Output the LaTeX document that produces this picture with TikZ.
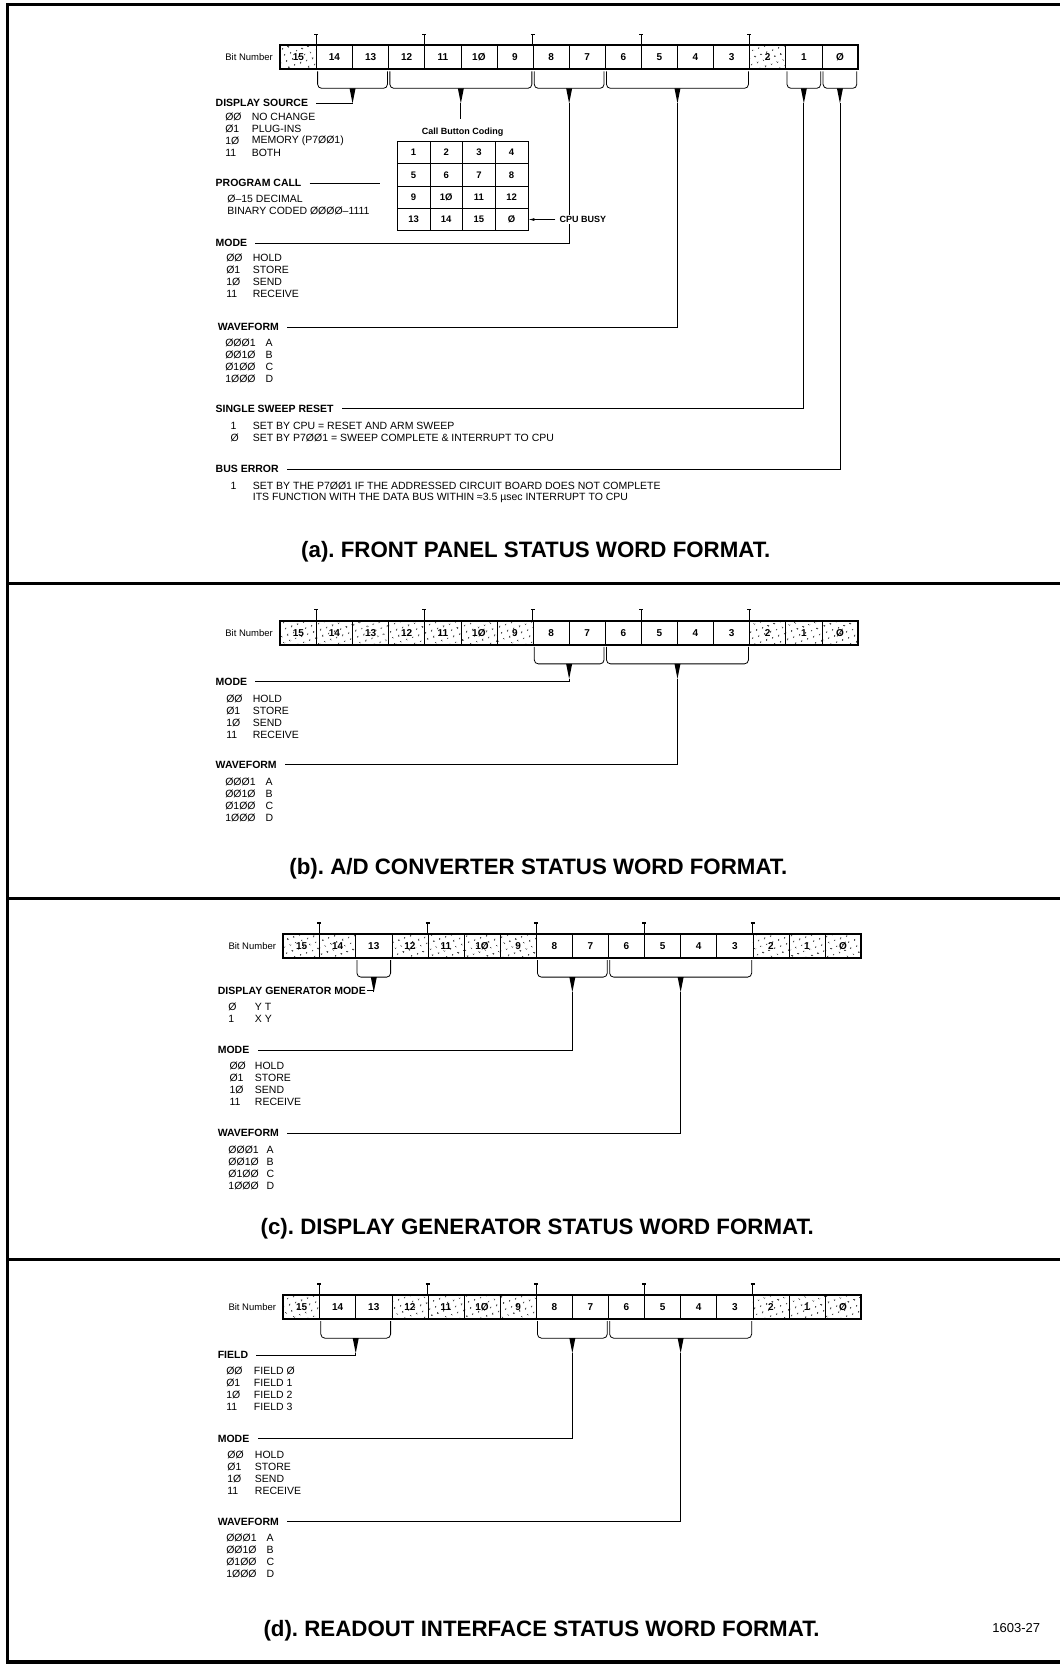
\documentclass[tikz,border=0pt]{standalone}
\usepackage{fontspec}
\setmainfont{Liberation Sans}
\usetikzlibrary{positioning,calc,matrix,arrows.meta,patterns.meta}
\frenchspacing

\newcommand{\bitno}[1]{\ifnum#1=10 1Ø\else\ifnum#1=0 Ø\else#1\fi\fi}

% one status word: prefix, left x, centre y, bit/style list
\newcommand{\statusword}[4]{%
  \foreach \b/\s in {#4}
    \node[\s] (#1\b) at ({#2+34*(15-\b)+17},#3) {\bitno{\b}};
  \draw[regframe] (#115.north west) rectangle (#10.south east);
  \foreach \b in {14,11,8,5,2}
    \draw[bittick] (#1\b.north west) -- ++(0,-11);
  \node[bitlabel, left=6pt of #115] (#1bit) {Bit Number};
}

% brace under a group of bits: first node, last node, tip name
\newcommand{\bitbrace}[3]{%
  \coordinate (bl) at ([xshift=1.5pt,yshift=-2pt]#1.south west);
  \coordinate (br) at ([xshift=-1.5pt,yshift=-2pt]#2.south east);
  \draw[bitbracket] (bl) -- ++(0,-17pt) -| (br);
  \fill ($(bl)!.5!(br)+(-3pt,-17pt)$) -- ++(6pt,0) -- ++(-3pt,-15pt) -- cycle;
  \coordinate (#3) at ($(bl)!.5!(br)+(0,-32pt)$);
}

% code / meaning list under a heading
\newcommand{\codelist}[5]{%
  \foreach \c/\t [count=\i] in {#5} {
    \node[item] (#1c\i) at (#2,{#4+11.3*(\i-1)}) {\c};
    \node[item] (#1t\i) at (#3,{#4+11.3*(\i-1)}) {\t};
  }}

\begin{document}
\begin{tikzpicture}[x=1.0621pt, y=-1.0621pt,
  wcell/.style={draw, line width=0.6pt, minimum width=36.1pt, minimum height=23.4pt,
                inner sep=0pt, font=\fontsize{10}{11}\selectfont\bfseries},
  dcell/.style={wcell, pattern={Dots[distance=6.5pt,radius=0.9pt,angle=20]}},
  regframe/.style={line width=2pt},
  bittick/.style={line width=0.8pt, -{Bar[width=4pt,line width=1.2pt]}},
  bitlabel/.style={font=\fontsize{9.5}{11}\selectfont, inner sep=1pt},
  bitbracket/.style={line width=0.8pt, rounded corners=4pt},
  heading/.style={anchor=west, inner sep=1pt, font=\fontsize{10.5}{12}\selectfont\bfseries},
  item/.style={anchor=west, inner sep=1pt, font=\fontsize{10.5}{12}\selectfont},
  leader/.style={line width=0.8pt},
  title/.style={font=\fontsize{22.3}{26}\selectfont\bfseries},
  pageframe/.style={line width=3.5pt},
  cbcell/.style={draw, line width=0.8pt, minimum width=32.7pt, minimum height=22.3pt,
                 inner sep=0pt, font=\fontsize{9.5}{10}\selectfont\bfseries}
]
\useasboundingbox (0,0) rectangle (998,1568);

% frame
\draw[pageframe] (998,4) -- (7,4) -- (7,1565) -- (998,1565);
\draw[pageframe] (7,549.5) -- (998,549.5);
\draw[pageframe] (7,846) -- (998,846);
\draw[pageframe] (7,1186) -- (998,1186);

% (a) front panel
\statusword{a}{264}{54}{15/dcell,14/wcell,13/wcell,12/wcell,11/wcell,10/wcell,9/wcell,8/wcell,7/wcell,6/wcell,5/wcell,4/wcell,3/wcell,2/dcell,1/wcell,0/wcell}
\bitbrace{a14}{a13}{a-t1413}
\bitbrace{a12}{a9}{a-t129}
\bitbrace{a8}{a7}{a-t87}
\bitbrace{a6}{a3}{a-t63}
\bitbrace{a1}{a1}{a-t1}
\bitbrace{a0}{a0}{a-t0}

\node[heading] (a-ds) at (202,97) {DISPLAY SOURCE};
\codelist{a-ds}{211}{236}{110}{ØØ/NO CHANGE,Ø1/PLUG-INS,1Ø/MEMORY (P7ØØ1),11/BOTH}
\node[heading] (a-pc) at (202,172.6) {PROGRAM CALL};
\node[item] (a-pc1) at (213,187) {Ø–15 DECIMAL};
\node[item] (a-pc2) at (213,199) {BINARY CODED ØØØØ–1111};
\node[heading] (a-mode) at (202,229) {MODE};
\codelist{a-mode}{212}{237}{243}{ØØ/HOLD,Ø1/STORE,1Ø/SEND,11/RECEIVE}
\node[heading] (a-wave) at (204,308) {WAVEFORM};
\codelist{a-wave}{211}{249}{323}{ØØØ1/A,ØØ1Ø/B,Ø1ØØ/C,1ØØØ/D}
\node[heading] (a-ssr) at (202,385) {SINGLE SWEEP RESET};
\codelist{a-ssr}{216}{237}{401}{1/SET BY CPU = RESET AND ARM SWEEP,Ø/SET BY P7ØØ1 = SWEEP COMPLETE \& INTERRUPT TO CPU}
\node[heading] (a-bus) at (202,442) {BUS ERROR};
\codelist{a-bus}{216}{237}{458}{1/SET BY THE P7ØØ1 IF THE ADDRESSED CIRCUIT BOARD DOES NOT COMPLETE,/ITS FUNCTION WITH THE DATA BUS WITHIN ≈3.5 µsec INTERRUPT TO CPU}

\matrix (a-cbc) [matrix of nodes, anchor=north west, inner sep=0pt,
  column sep=-0.8pt, row sep=-0.8pt, nodes={cbcell}] at (373.5,132.5) {
  1 & 2 & 3 & 4 \\
  5 & 6 & 7 & 8 \\
  9 & 1Ø & 11 & 12 \\
  13 & 14 & 15 & Ø \\
};
\node[font=\fontsize{9}{10}\selectfont\bfseries, inner sep=1pt, above=3pt of a-cbc] (a-cbct) {Call Button Coding};
\coordinate (a-pcend) at ([xshift=-17pt]a-cbc.west |- a-pc.east);

\draw[leader] (a-t1413) |- ([xshift=7pt]a-ds.east);
\draw[leader, shorten >=8pt] (a-t129) -- (a-t129 |- a-cbct.north);
\draw[leader] ([xshift=7pt]a-pc.east) -- (a-pcend);
\draw[leader] (a-t87) |- ([xshift=7pt]a-mode.east);
\draw[leader] (a-t63) |- ([xshift=7pt]a-wave.east);
\draw[leader] (a-t1) |- ([xshift=7pt]a-ssr.east);
\draw[leader] (a-t0) |- ([xshift=7pt]a-bus.east);

\node[font=\fontsize{9}{10}\selectfont\bfseries, inner sep=1pt, fill=white,
  right=30pt of a-cbc-4-4] (a-cpu) {CPU BUSY};
\draw[leader, -{Latex[length=6pt,width=3pt]}, shorten <=3pt] (a-cpu) -- (a-cbc-4-4);

\node[title] (a-title) at (504.5,520) {(a). FRONT PANEL STATUS WORD FORMAT.};

% (b) A/D converter
\statusword{b}{264}{596}{15/dcell,14/dcell,13/dcell,12/dcell,11/dcell,10/dcell,9/dcell,8/wcell,7/wcell,6/wcell,5/wcell,4/wcell,3/wcell,2/dcell,1/dcell,0/dcell}
\bitbrace{b8}{b7}{b-t87}
\bitbrace{b6}{b3}{b-t63}
\node[heading] (b-mode) at (202,642) {MODE};
\codelist{b-mode}{212}{237}{658}{ØØ/HOLD,Ø1/STORE,1Ø/SEND,11/RECEIVE}
\node[heading] (b-wave) at (202,720) {WAVEFORM};
\codelist{b-wave}{211}{249}{736}{ØØØ1/A,ØØ1Ø/B,Ø1ØØ/C,1ØØØ/D}
\draw[leader] (b-t87) |- ([xshift=7pt]b-mode.east);
\draw[leader] (b-t63) |- ([xshift=7pt]b-wave.east);
\node[title] (b-title) at (507,818) {(b). A/D CONVERTER STATUS WORD FORMAT.};

% (c) display generator
\statusword{c}{267}{891}{15/dcell,14/dcell,13/wcell,12/dcell,11/dcell,10/dcell,9/dcell,8/wcell,7/wcell,6/wcell,5/wcell,4/wcell,3/wcell,2/dcell,1/dcell,0/dcell}
\bitbrace{c13}{c13}{c-t13}
\bitbrace{c8}{c7}{c-t87}
\bitbrace{c6}{c3}{c-t63}
\node[heading] (c-dgm) at (204,933) {DISPLAY GENERATOR MODE};
\codelist{c-dgm}{214}{239}{948}{Ø/Y T,1/X Y}
\node[heading] (c-mode) at (204,989) {MODE};
\codelist{c-mode}{215}{239}{1004}{ØØ/HOLD,Ø1/STORE,1Ø/SEND,11/RECEIVE}
\node[heading] (c-wave) at (204,1067) {WAVEFORM};
\codelist{c-wave}{214}{250}{1083}{ØØØ1/A,ØØ1Ø/B,Ø1ØØ/C,1ØØØ/D}
\draw[leader] (c-t13) |- (c-dgm.east);
\draw[leader] (c-t87) |- ([xshift=7pt]c-mode.east);
\draw[leader] (c-t63) |- ([xshift=7pt]c-wave.east);
\node[title] (c-title) at (506,1157) {(c). DISPLAY GENERATOR STATUS WORD FORMAT.};

% (d) readout interface
\statusword{d}{267}{1231}{15/dcell,14/wcell,13/wcell,12/dcell,11/dcell,10/dcell,9/dcell,8/wcell,7/wcell,6/wcell,5/wcell,4/wcell,3/wcell,2/dcell,1/dcell,0/dcell}
\bitbrace{d14}{d13}{d-t1413}
\bitbrace{d8}{d7}{d-t87}
\bitbrace{d6}{d3}{d-t63}
\node[heading] (d-field) at (204,1276) {FIELD};
\codelist{d-field}{212}{238}{1291}{ØØ/FIELD Ø,Ø1/FIELD 1,1Ø/FIELD 2,11/FIELD 3}
\node[heading] (d-mode) at (204,1355) {MODE};
\codelist{d-mode}{213}{239}{1370}{ØØ/HOLD,Ø1/STORE,1Ø/SEND,11/RECEIVE}
\node[heading] (d-wave) at (204,1433) {WAVEFORM};
\codelist{d-wave}{212}{250}{1448}{ØØØ1/A,ØØ1Ø/B,Ø1ØØ/C,1ØØØ/D}
\draw[leader] (d-t1413) |- ([xshift=7pt]d-field.east);
\draw[leader] (d-t87) |- ([xshift=7pt]d-mode.east);
\draw[leader] (d-t63) |- ([xshift=7pt]d-wave.east);
\node[title] (d-title) at (510,1536) {(d). READOUT INTERFACE STATUS WORD FORMAT.};
\node[font=\fontsize{13}{15}\selectfont] (figno) at (957,1533) {1603-27};

\end{tikzpicture}
\end{document}
